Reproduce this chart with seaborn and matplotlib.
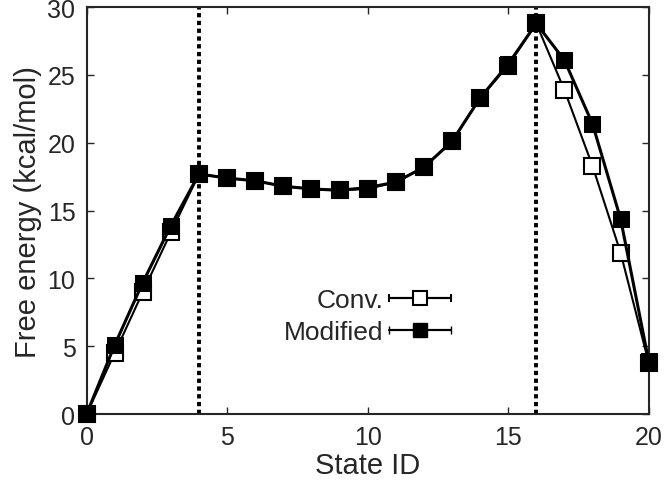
import numpy as np
import pandas as pd
import seaborn as sns
import matplotlib.pyplot as plt
from matplotlib.legend_handler import HandlerErrorbar

sns.set_style("ticks")
plt.rcParams['font.family'] = ['Liberation Sans', 'DejaVu Sans']

# Free energy profile along the state index
state_id = list(range(21))
conv = [0, 4.5, 9.0, 13.4, 17.7, 17.4, 17.2, 16.8, 16.6, 16.5, 16.6,
        17.1, 18.2, 20.1, 23.3, 25.7, 28.8, 23.9, 18.3, 11.9, 3.8]
modified = [0, 5.1, 9.7, 13.9, 17.7, 17.4, 17.2, 16.8, 16.6, 16.5, 16.7,
            17.1, 18.2, 20.1, 23.3, 25.8, 28.8, 26.1, 21.4, 14.4, 3.9]
boundaries = [4, 16]

df = pd.DataFrame({"state": state_id, "Conv.": conv, "Modified": modified})

fig = plt.figure(figsize=(6.66, 4.81), dpi=100)
ax = fig.add_axes([0.130, 0.137, 0.844, 0.846])

for x in boundaries:
    ax.axvline(x, color="black", lw=2.8, ls=(0, (1.1, 0.9)), zorder=1)

sns.lineplot(data=df, x="state", y="Conv.", ax=ax, color="black", lw=1.5,
             marker="s", markersize=11, markerfacecolor="white",
             markeredgecolor="black", markeredgewidth=1.5, zorder=3, clip_on=False)
sns.lineplot(data=df, x="state", y="Modified", ax=ax, color="black", lw=2.2,
             marker="s", markersize=11, markerfacecolor="black",
             markeredgecolor="black", zorder=4, clip_on=False)

# gnuplot style legend with error bar keys
h1 = ax.errorbar([np.nan], [np.nan], xerr=1, color="black", lw=1.5, marker="s",
                 ms=10, mfc="white", mec="black", mew=1.5, capsize=3)
h2 = ax.errorbar([np.nan], [np.nan], xerr=1, color="black", lw=1.5, marker="s",
                 ms=10, mfc="black", mec="black", capsize=3)
ax.legend([h1, h2], ["Conv.", "Modified"], loc="center right",
          bbox_to_anchor=(0.69, 0.24), frameon=False, markerfirst=False,
          fontsize=19, handlelength=2.35, handletextpad=0.2, labelspacing=0.3,
          handler_map={type(h1): HandlerErrorbar(xerr_size=1.17)})

ax.set_xlim(0, 20)
ax.set_ylim(0, 30)
ax.set_xticks([0, 5, 10, 15, 20])
ax.set_yticks([0, 5, 10, 15, 20, 25, 30])
ax.tick_params(direction="in", length=5, width=1, labelsize=18,
               top=True, right=True, pad=8)
for s in ax.spines.values():
    s.set_linewidth(1.5)
ax.set_xlabel("State ID", fontsize=21, labelpad=1)
ax.set_ylabel("Free energy (kcal/mol)", fontsize=21, labelpad=4)

fig.savefig("out.png", dpi=100)
